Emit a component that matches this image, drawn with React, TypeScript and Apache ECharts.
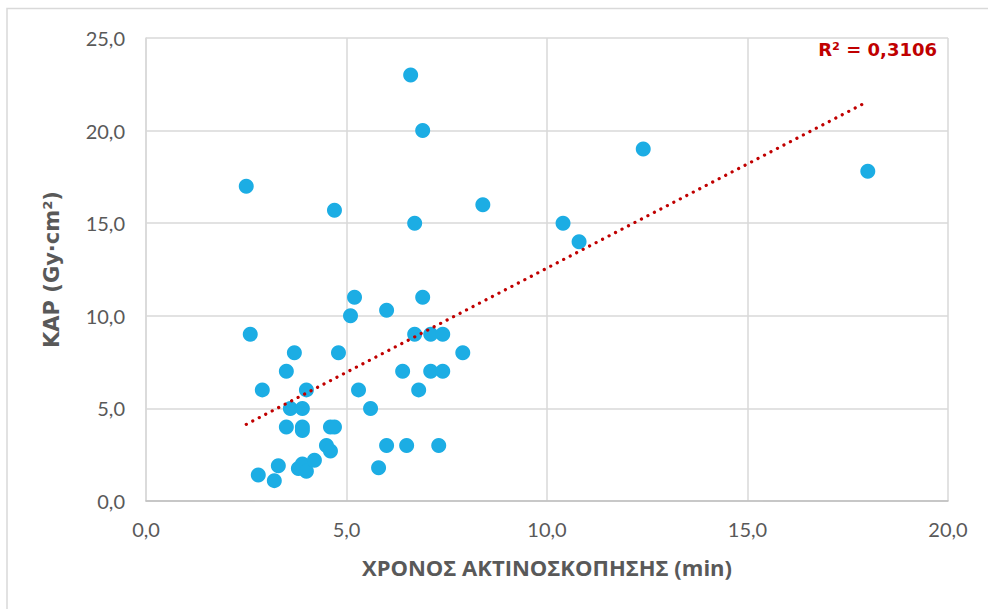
import React, { useEffect, useRef } from "react";
import * as echarts from "echarts";

// Fluoroscopy time (min) per procedure
const fluoroTime: number[] = [
  2.5, 2.6, 2.9, 2.8, 3.2, 3.3, 3.5, 3.7, 3.5, 3.6,
  3.8, 3.9, 3.9, 3.9, 3.9, 4.0, 4.0, 4.2, 4.5, 4.6,
  4.6, 4.7, 4.7, 4.8, 5.1, 5.2, 5.3, 5.6, 5.8, 6.0,
  6.0, 6.4, 6.5, 6.6, 6.7, 6.7, 6.8, 6.9, 6.9, 7.1,
  7.1, 7.3, 7.4, 7.4, 7.9, 8.4, 10.4, 10.8, 12.4, 18.0,
];

// Kerma-area product (Gy·cm²) per procedure
const kap: number[] = [
  17.0, 9.0, 6.0, 1.4, 1.1, 1.9, 7.0, 8.0, 4.0, 5.0,
  1.75, 2.0, 5.0, 4.0, 3.8, 1.6, 6.0, 2.2, 3.0, 2.7,
  4.0, 4.0, 15.7, 8.0, 10.0, 11.0, 6.0, 5.0, 1.8, 3.0,
  10.3, 7.0, 3.0, 23.0, 15.0, 9.0, 6.0, 20.0, 11.0, 9.0,
  7.0, 3.0, 9.0, 7.0, 8.0, 16.0, 15.0, 14.0, 19.0, 17.8,
];

const xTicks = [0, 5, 10, 15, 20];
const yTicks = [0, 5, 10, 15, 20, 25];
const rSquaredLabel = "R² = 0,3106";
const xTitle = "ΧΡΟΝΟΣ ΑΚΤΙΝΟΣΚΟΠΗΣΗΣ (min)";
const yTitle = "KAP (Gy·cm²)";

// Ordinary least-squares fit for the linear trend line
function linearFit(xs: number[], ys: number[]) {
  const n = xs.length;
  const mx = xs.reduce((a, b) => a + b, 0) / n;
  const my = ys.reduce((a, b) => a + b, 0) / n;
  let sxy = 0;
  let sxx = 0;
  for (let i = 0; i < n; i++) {
    sxy += (xs[i] - mx) * (ys[i] - my);
    sxx += (xs[i] - mx) * (xs[i] - mx);
  }
  const slope = sxy / sxx;
  return { slope, intercept: my - slope * mx };
}

const fmt = (v: number) => v.toFixed(1).replace(".", ",");

export default function App() {
  const ref = useRef<HTMLDivElement>(null);

  useEffect(() => {
    if (!ref.current) return;
    const chart = echarts.init(ref.current, null, { renderer: "svg" });

    const points = fluoroTime.map((x, i) => [x, kap[i]]);
    const { slope, intercept } = linearFit(fluoroTime, kap);
    const xMin = Math.min(...fluoroTime);
    const xMax = Math.max(...fluoroTime);
    const trend = [
      [xMin, intercept + slope * xMin],
      [xMax, intercept + slope * xMax],
    ];

    const tickFont = {
      color: "#595959",
      fontSize: 20,
      fontFamily: "Lato, 'Open Sans', sans-serif",
    };

    chart.setOption({
      animation: false,
      backgroundColor: "#ffffff",
      grid: { left: 146, right: 40, top: 38, bottom: 108, containLabel: false },
      graphic: [
        {
          type: "rect",
          shape: { x: 7, y: 8.5, width: 1000, height: 620 },
          style: { fill: "none", stroke: "#d9d9d9", lineWidth: 1.5 },
          silent: true,
          z: -1,
        },
        {
          type: "text",
          right: 51,
          top: 40,
          style: {
            text: rSquaredLabel,
            fill: "#c00000",
            fontSize: 18,
            fontWeight: "bold",
            fontFamily: "'DejaVu Sans', sans-serif",
          },
        },
      ],
      xAxis: {
        type: "value",
        min: xTicks[0],
        max: xTicks[xTicks.length - 1],
        interval: 5,
        name: xTitle,
        nameLocation: "middle",
        nameGap: 55,
        nameMoveOverlap: false,
        nameTextStyle: {
          color: "#595959",
          fontSize: 22,
          fontWeight: "bold",
          fontFamily: "'Open Sans', 'Noto Sans', sans-serif",
        },
        axisLine: { show: true, lineStyle: { color: "#bfbfbf", width: 1.5 } },
        axisTick: { show: false },
        axisLabel: { ...tickFont, margin: 18, formatter: fmt },
        splitLine: { show: true, lineStyle: { color: "#d9d9d9", width: 1.5 } },
      },
      yAxis: {
        type: "value",
        min: yTicks[0],
        max: yTicks[yTicks.length - 1],
        interval: 5,
        name: yTitle,
        nameLocation: "middle",
        nameRotate: 90,
        nameGap: 84,
        nameMoveOverlap: false,
        nameTextStyle: {
          color: "#595959",
          fontSize: 21,
          fontWeight: "bold",
          fontFamily: "'DejaVu Sans', sans-serif",
        },
        axisLine: { show: true, lineStyle: { color: "#d9d9d9", width: 1.5 } },
        axisTick: { show: false },
        axisLabel: { ...tickFont, margin: 21, formatter: fmt },
        splitLine: { show: true, lineStyle: { color: "#d9d9d9", width: 1.5 } },
      },
      series: [
        {
          type: "scatter",
          data: points,
          symbol: "circle",
          symbolSize: 15,
          itemStyle: { color: "#1cade4", opacity: 1 },
          z: 2,
        },
        {
          type: "line",
          data: trend,
          showSymbol: false,
          symbol: "none",
          lineStyle: {
            color: "#c00000",
            width: 3.2,
            type: [0.1, 7.2],
            cap: "round",
          },
          z: 3,
        },
      ],
    });

    return () => chart.dispose();
  }, []);

  return (
    <div
      ref={ref}
      style={{ position: "fixed", left: 0, top: 0, width: 988, height: 609 }}
    />
  );
}
